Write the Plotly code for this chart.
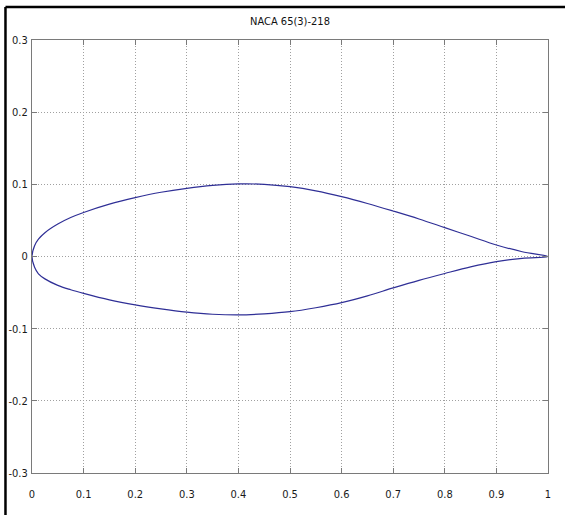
import plotly.graph_objects as go

# Airfoil coordinates (NACA 65(3)-218)
x_upper = [0, 0.005, 0.0125, 0.025, 0.05, 0.075, 0.1, 0.15, 0.2, 0.25, 0.3, 0.35, 0.4,
           0.45, 0.5, 0.55, 0.6, 0.65, 0.7, 0.75, 0.8, 0.85, 0.9, 0.95, 1.0]
y_upper = [0, 0.015, 0.024, 0.033, 0.045, 0.054, 0.061, 0.0725, 0.0815, 0.089, 0.0945, 0.0985, 0.1005,
           0.100, 0.0967, 0.091, 0.083, 0.0735, 0.063, 0.052, 0.040, 0.028, 0.016, 0.0066, 0]
x_lower = [0, 0.005, 0.0125, 0.025, 0.05, 0.075, 0.1, 0.15, 0.2, 0.25, 0.3, 0.35, 0.4,
           0.45, 0.5, 0.55, 0.6, 0.65, 0.7, 0.75, 0.8, 0.85, 0.9, 0.95, 1.0]
y_lower = [0, -0.015, -0.024, -0.031, -0.040, -0.046, -0.051, -0.060, -0.067, -0.0725, -0.077, -0.080, -0.081,
           -0.0795, -0.0765, -0.071, -0.064, -0.0545, -0.0435, -0.033, -0.0235, -0.0145, -0.0072, -0.0025, 0]

x_ticks = [0, 0.1, 0.2, 0.3, 0.4, 0.5, 0.6, 0.7, 0.8, 0.9, 1]
x_ticklabels = ["0", "0.1", "0.2", "0.3", "0.4", "0.5", "0.6", "0.7", "0.8", "0.9", "1"]
y_ticks = [-0.3, -0.2, -0.1, 0, 0.1, 0.2, 0.3]
y_ticklabels = ["-0.3", "-0.2", "-0.1", "0", "0.1", "0.2", "0.3"]

title_text = "NACA 65(3)-218"

line_color = "#2f2f96"
font_family = "DejaVu Sans Condensed, Liberation Sans, Arial"

# one continuous contour: trailing edge -> upper surface -> leading edge -> lower surface -> trailing edge
contour_x = x_upper[::-1] + x_lower[1:]
contour_y = y_upper[::-1] + y_lower[1:]

fig = go.Figure()
fig.add_trace(go.Scatter(x=contour_x, y=contour_y, mode="lines",
                         line=dict(color=line_color, width=1.2, shape="spline", smoothing=1.0),
                         showlegend=False, hoverinfo="skip"))

axis_common = dict(
    showgrid=True, gridcolor="#a0a0a0", griddash="1px,2px", gridwidth=1,
    zeroline=False, automargin=False,
    showline=True, linecolor="#7a7a7a", linewidth=1, mirror="allticks",
    ticks="inside", ticklen=5, tickcolor="#7a7a7a", tickwidth=1,
)

tick_font = dict(family=font_family, size=11, color="#1a1a1a")
fig.update_xaxes(range=[0, 1], tickvals=x_ticks, ticktext=x_ticklabels, ticklabelstandoff=11,
                 tickfont=tick_font, **axis_common)
fig.update_yaxes(range=[-0.3, 0.3], tickvals=y_ticks, ticktext=y_ticklabels, ticklabelstandoff=1,
                 tickfont=tick_font, **axis_common)

# black frame on the left and top edges of the picture
fig.add_shape(type="line", xref="paper", yref="paper", x0=-0.0514, x1=-0.0514, y0=1.0762, y1=-0.12,
              line=dict(color="black", width=2.5))
fig.add_shape(type="line", xref="paper", yref="paper", x0=-0.0514, x1=1.05, y0=1.0762, y1=1.0762,
              line=dict(color="black", width=2.5))

fig.update_layout(
    width=565, height=515,
    margin=dict(l=32, r=17, t=40, b=42, autoexpand=False),
    paper_bgcolor="white", plot_bgcolor="white",
    title=dict(text=title_text, x=0.5, xanchor="center", xref="paper", y=1, yref="container",
               yanchor="top", pad=dict(t=17),
               font=dict(family=font_family, size=11, color="#111111")),
)

fig.write_html("out.html", config={"displayModeBar": False},
               post_script="document.body.style.margin='0';document.body.style.overflow='hidden';")
